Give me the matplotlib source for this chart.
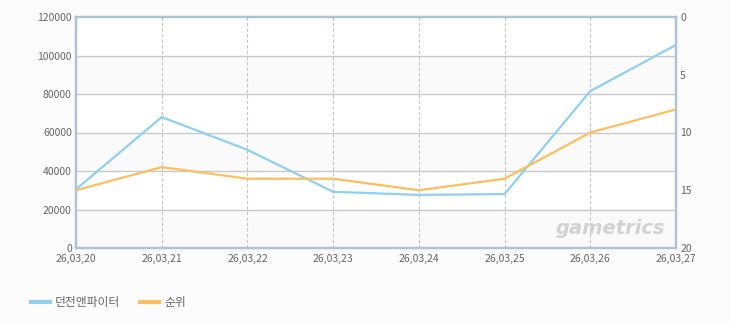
import matplotlib
matplotlib.use("Agg")
import matplotlib.pyplot as plt

plt.rcParams['font.family'] = ['Noto Sans CJK KR', 'DejaVu Sans']

dates = ["26,03,20", "26,03,21", "26,03,22", "26,03,23", "26,03,24", "26,03,25", "26,03,26", "26,03,27"]
players = [30500, 68000, 51000, 29200, 27600, 28000, 81500, 105500]
rank = [15, 13, 14, 14, 15, 14, 10, 8]
series_names = ["던전앤파이터", "순위"]
left_ticks = [0, 20000, 40000, 60000, 80000, 100000, 120000]
right_ticks = [0, 5, 10, 15, 20]

blue = "#8fd0f0"
orange = "#fdbf5e"
spine_c = "#aec2d6"
txt_c = "#666666"

fig = plt.figure(figsize=(7.3, 3.25), dpi=100, facecolor="#fcfcfc")
ax = fig.add_axes([76/730, 1-248/325, 600/730, 231/325])
ax.set_facecolor("white")
x = list(range(len(dates)))

# alternating bands
for i in range(0, len(left_ticks)-1):
    if i % 2 == 0:
        ax.axhspan(left_ticks[i], left_ticks[i+1], color="#fafafa", zorder=0, lw=0)
for t in left_ticks[1:-1]:
    ax.axhline(t, color="#c8c8c8", lw=1, zorder=1)
for xi in x[1:-1]:
    ax.axvline(xi, color="#c4c4c4", lw=0.8, ls=(0, (3, 2)), zorder=1)

ax.plot(x, players, color=blue, lw=1.6, zorder=3, solid_joinstyle="round")
ax.set_xlim(0, len(dates)-1)
ax.set_ylim(0, 120000)
ax.set_yticks(left_ticks)
ax.set_xticks(x)
ax.set_xticklabels(dates)
for s in ax.spines.values():
    s.set_color(spine_c)
    s.set_linewidth(1.6)
ax.tick_params(axis="x", length=0, colors=txt_c, labelsize=7.5, pad=4.5)
ax.tick_params(axis="y", length=0, colors=txt_c, labelsize=7.5, pad=3)

ax2 = ax.twinx()
ax2.plot(x, rank, color=orange, lw=1.6, zorder=3, solid_joinstyle="round")
ax2.set_ylim(20, 0)
ax2.set_yticks(right_ticks)
ax2.tick_params(axis="y", length=0, colors=txt_c, labelsize=7.5, pad=3)
for s in ax2.spines.values():
    s.set_color(spine_c)
    s.set_linewidth(1.6)

# watermark
ax.text(0.982, 0.045, "gametrics", transform=ax.transAxes, ha="right", va="bottom",
        fontsize=14, fontweight="bold", style="italic", color="#d2d2d2", family="DejaVu Sans", zorder=2)

# legend
from matplotlib.lines import Line2D
handles = [Line2D([0], [0], color=blue, lw=3), Line2D([0], [0], color=orange, lw=3)]
fig.legend(handles, series_names, loc="lower left", bbox_to_anchor=(20/730, 5/325), ncol=2,
           frameon=False, fontsize=8.5, handlelength=1.6, handletextpad=0.45, columnspacing=1.7,
           labelcolor=txt_c)

fig.savefig("out.png", dpi=100, facecolor=fig.get_facecolor())
